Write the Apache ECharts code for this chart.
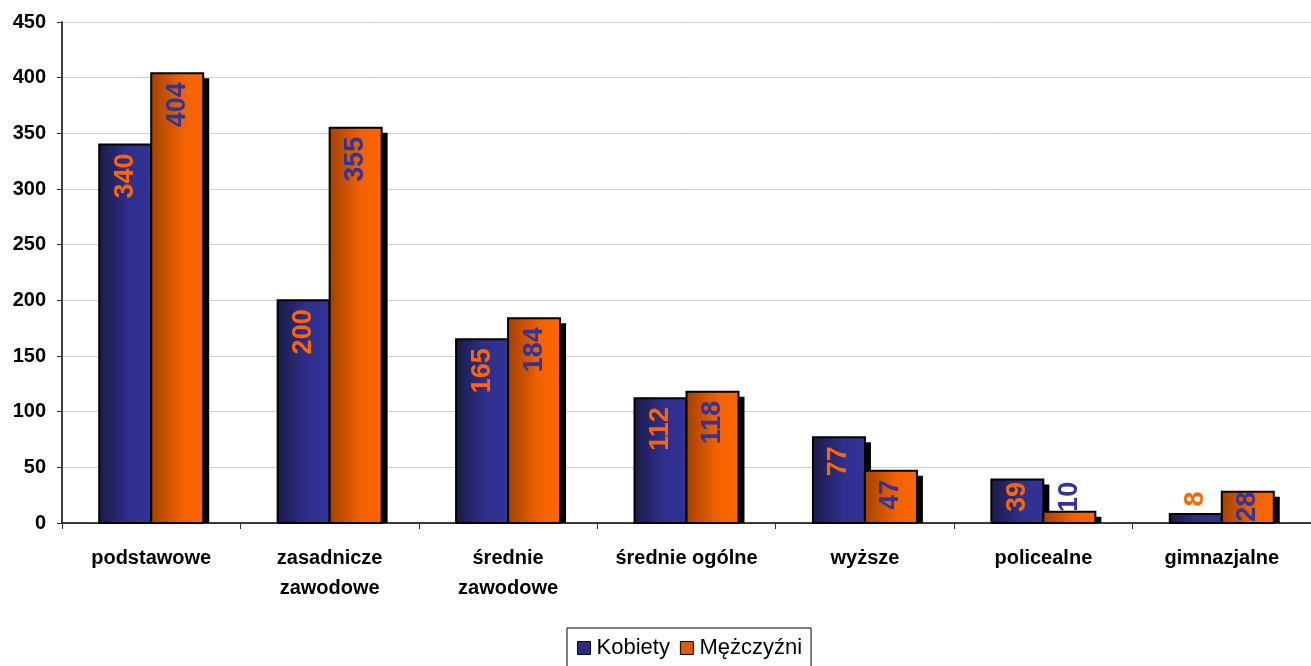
<!DOCTYPE html>
<html>
<head>
<meta charset="utf-8">
<script src="https://cdn.jsdelivr.net/npm/echarts@6/dist/echarts.min.js"></script>
<style>
html,body{margin:0;padding:0;background:#fff;}
#chart{width:1311px;height:666px;}
</style>
</head>
<body>
<div id="chart"></div>
<script>
const categories = ['podstawowe', 'zasadnicze\nzawodowe', 'średnie\nzawodowe', 'średnie ogólne', 'wyższe', 'policealne', 'gimnazjalne'];
const kobiety = [340, 200, 165, 112, 77, 39, 8];
const mezczyzni = [404, 355, 184, 118, 47, 10, 28];
const seriesNames = ['Kobiety', 'Mężczyźni'];
const yTicks = [0, 50, 100, 150, 200, 250, 300, 350, 400, 450];

const FONT = 'Liberation Sans, Arial, sans-serif';
const BAR_W = 52;
const LABEL_SIZE = 27;

const chart = echarts.init(document.getElementById('chart'));

function grad(stops) {
  return new echarts.graphic.LinearGradient(0, 0, 1, 0, stops.map(c => ({offset: c[0], color: c[1]})));
}
const blueStops = [[0, '#1a1a46'], [0.55, '#2f2f8c'], [1, '#333399']];
const orangeStops = [[0, '#a04200'], [0.6, '#f26200'], [1, '#ff6600']];

function makeRender(seriesIdx, stops, labelColor) {
  return function (params, api) {
    const idx = api.value(0);
    const v = api.value(1);
    const base = api.coord([idx, 0]);
    const top = api.coord([idx, v]);
    const x = base[0] + (seriesIdx === 0 ? -BAR_W : 0);
    const h = base[1] - top[1];
    const text = String(v);
    const labelLen = text.length * 0.556 * LABEL_SIZE;
    const cx = x + BAR_W / 2;
    let label;
    if (h >= labelLen) {
      const dist = Math.max(0, Math.min(9, h - labelLen - 11));
      label = {
        type: 'text', x: cx, y: top[1] + dist, rotation: Math.PI / 2,
        style: {text: text, align: 'right', verticalAlign: 'middle', fill: labelColor,
          font: 'bold ' + LABEL_SIZE + 'px ' + FONT},
        z2: 30
      };
    } else {
      label = {
        type: 'text', x: cx, y: top[1] - 15, rotation: Math.PI / 2,
        style: {text: text, align: 'center', verticalAlign: 'middle', fill: labelColor,
          font: 'bold ' + LABEL_SIZE + 'px ' + FONT},
        z2: 30
      };
    }
    return {
      type: 'group',
      children: [
        {type: 'rect', shape: {x: x + 6, y: top[1] + 5, width: BAR_W, height: Math.max(0, h - 5)},
          style: {fill: '#000'}, z2: 1},
        {type: 'rect', shape: {x: x, y: top[1], width: BAR_W, height: h},
          style: {fill: grad(stops), stroke: '#000', lineWidth: 2}, z2: 2},
        label
      ]
    };
  };
}

function customSeries(idx, vals, stops, legendColor, labelColor) {
  return {
    name: seriesNames[idx],
    type: 'custom',
    renderItem: makeRender(idx, stops, labelColor),
    encode: {x: 0, y: 1},
    itemStyle: {color: legendColor},
    data: vals.map((v, i) => [i, v]),
    z: 2 + idx
  };
}

chart.setOption({
  animation: false,
  backgroundColor: '#fff',
  grid: {left: 62, top: 22, right: -9, bottom: 143},
  legend: {
    data: [
      {name: seriesNames[0], itemStyle: {color: '#2c2c80', borderColor: '#000', borderWidth: 1}},
      {name: seriesNames[1], itemStyle: {color: '#e05a00', borderColor: '#000', borderWidth: 1}}
    ],
    left: 567,
    top: 628,
    icon: 'rect',
    itemWidth: 13,
    itemHeight: 13,
    itemGap: 10,
    padding: [9, 9, 12, 10],
    borderColor: '#000',
    borderWidth: 1,
    textStyle: {fontFamily: FONT, fontSize: 22, color: '#000', padding: [0, 0, 0, 1]}
  },
  xAxis: {
    type: 'category',
    data: categories,
    z: 6,
    axisLine: {lineStyle: {color: '#000', width: 1.5}},
    axisTick: {show: true, length: 6, lineStyle: {color: '#333'}},
    axisLabel: {
      margin: 20,
      interval: 0,
      color: '#000',
      fontFamily: FONT,
      fontWeight: 'bold',
      fontSize: 20,
      lineHeight: 30
    }
  },
  yAxis: {
    type: 'value',
    min: yTicks[0],
    max: yTicks[yTicks.length - 1],
    interval: 50,
    axisLine: {show: true, lineStyle: {color: '#000', width: 1.5}},
    axisTick: {show: true, length: 5, lineStyle: {color: '#333'}},
    splitLine: {lineStyle: {color: '#d0d0d0', width: 1}},
    axisLabel: {
      margin: 16,
      color: '#000',
      fontFamily: FONT,
      fontWeight: 'bold',
      fontSize: 20
    }
  },
  series: [
    customSeries(0, kobiety, blueStops, '#2c2c80', '#ff6600'),
    customSeries(1, mezczyzni, orangeStops, '#e05a00', '#333399')
  ]
});
</script>
</body>
</html>
